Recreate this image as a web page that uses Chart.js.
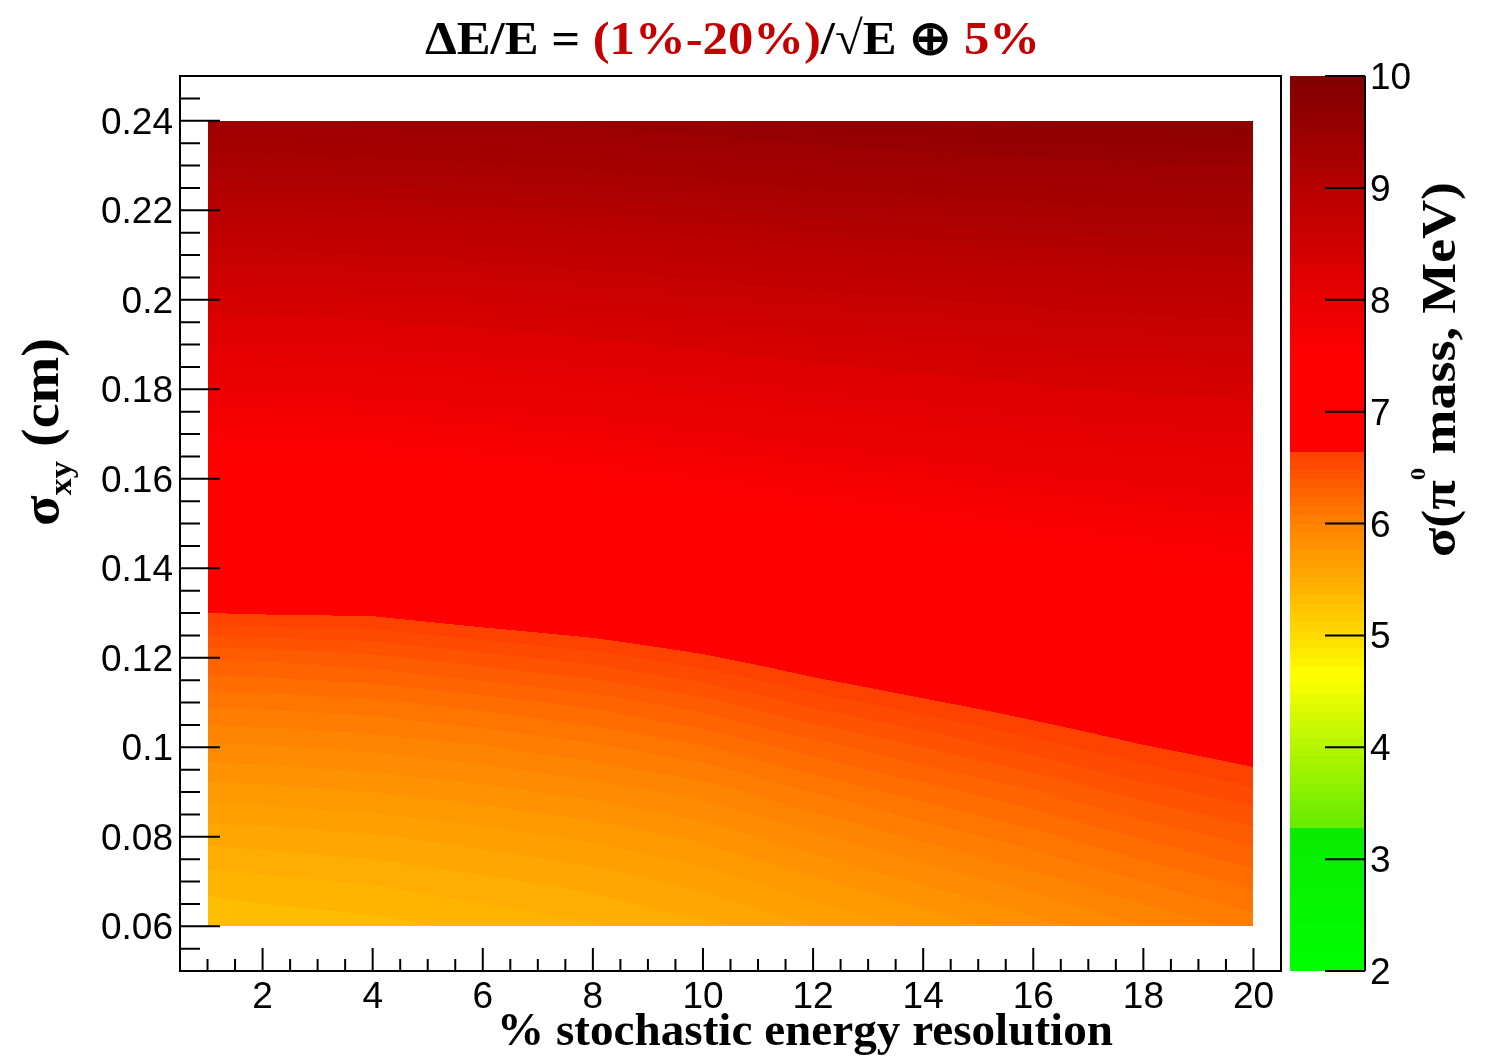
<!DOCTYPE html>
<html>
<head>
<meta charset="utf-8">
<script src="https://cdn.jsdelivr.net/npm/chart.js@4.4.1/dist/chart.umd.min.js"></script>
<style>
  html, body { margin: 0; padding: 0; background: #fff; }
  #wrap { width: 1494px; height: 1056px; }
</style>
</head>
<body>
<div id="wrap"><canvas id="contour" width="1494" height="1056"></canvas></div>
<script>
// grid nodes: stochastic term (%) and sigma_xy (cm)
const xValues = [1, 2, 4, 6, 8, 10, 12, 14, 16, 18, 20];
const yValues = [0.06, 0.07, 0.08, 0.09, 0.10, 0.11, 0.12, 0.13, 0.14, 0.15,
                 0.16, 0.17, 0.18, 0.19, 0.20, 0.21, 0.22, 0.23, 0.24];

// sigma(pi0 mass) in MeV, one column per x value, bottom (0.06) to top (0.24)
const massX1  = [5.28, 5.40, 5.55, 5.72, 5.90, 6.10, 6.33, 6.64, 6.87, 7.11, 7.35, 7.60, 7.86, 8.13, 8.40, 8.68, 8.95, 9.21, 9.45];
const massX2  = [5.30, 5.42, 5.56, 5.73, 5.91, 6.11, 6.34, 6.65, 6.88, 7.12, 7.36, 7.61, 7.87, 8.14, 8.41, 8.69, 8.96, 9.22, 9.46];
const massX4  = [5.33, 5.45, 5.59, 5.76, 5.94, 6.14, 6.38, 6.66, 6.89, 7.13, 7.38, 7.64, 7.90, 8.17, 8.44, 8.72, 8.98, 9.24, 9.48];
const massX6  = [5.38, 5.50, 5.64, 5.81, 5.99, 6.20, 6.45, 6.73, 6.96, 7.19, 7.44, 7.70, 7.96, 8.22, 8.49, 8.76, 9.02, 9.27, 9.51];
const massX8  = [5.43, 5.55, 5.70, 5.87, 6.06, 6.27, 6.52, 6.79, 7.02, 7.26, 7.51, 7.77, 8.02, 8.28, 8.55, 8.81, 9.06, 9.31, 9.55];
const massX10 = [5.50, 5.63, 5.78, 5.95, 6.15, 6.37, 6.62, 6.87, 7.10, 7.34, 7.59, 7.84, 8.09, 8.35, 8.61, 8.86, 9.11, 9.36, 9.60];
const massX12 = [5.60, 5.74, 5.90, 6.08, 6.28, 6.51, 6.74, 6.97, 7.20, 7.44, 7.68, 7.92, 8.17, 8.42, 8.67, 8.92, 9.17, 9.41, 9.64];
const massX14 = [5.70, 5.85, 6.02, 6.20, 6.40, 6.62, 6.84, 7.06, 7.29, 7.52, 7.75, 7.99, 8.23, 8.47, 8.71, 8.96, 9.20, 9.45, 9.68];
const massX16 = [5.80, 5.96, 6.13, 6.31, 6.52, 6.72, 6.93, 7.15, 7.37, 7.60, 7.83, 8.06, 8.29, 8.53, 8.76, 9.00, 9.24, 9.48, 9.71];
const massX18 = [5.92, 6.08, 6.25, 6.44, 6.63, 6.82, 7.02, 7.23, 7.45, 7.67, 7.89, 8.11, 8.34, 8.57, 8.80, 9.03, 9.27, 9.50, 9.73];
const massX20 = [6.03, 6.19, 6.36, 6.54, 6.72, 6.90, 7.10, 7.31, 7.52, 7.73, 7.94, 8.15, 8.37, 8.59, 8.82, 9.05, 9.28, 9.52, 9.75];
const massColumns = [massX1, massX2, massX4, massX6, massX8, massX10, massX12, massX14, massX16, massX18, massX20];

// axes and tick labels
const xRange = [0.5, 20.5];
const yRange = [0.05, 0.25];
const zRange = [2, 10];
const xTicks = [2, 4, 6, 8, 10, 12, 14, 16, 18, 20];
const yTicks = [0.06, 0.08, 0.1, 0.12, 0.14, 0.16, 0.18, 0.2, 0.22, 0.24];
const yTickLabels = ['0.06', '0.08', '0.1', '0.12', '0.14', '0.16', '0.18', '0.2', '0.22', '0.24'];
const zTicks = [2, 3, 4, 5, 6, 7, 8, 9, 10];
const nLevels = 100;

// colour palette (value, r, g, b)
const palette = [
  [2.0, 0, 255, 0], [3.2, 10, 235, 0], [3.2001, 95, 235, 0], [4.6, 255, 255, 0],
  [5.0, 255, 215, 0], [5.5, 255, 168, 0], [6.0, 255, 125, 0], [6.6, 255, 62, 0],
  [6.6001, 255, 0, 0], [7.4, 255, 0, 0], [8.0, 232, 0, 0], [9.0, 180, 0, 0], [10.0, 125, 0, 0]
];

function colorFor(v) {
  const step = (zRange[1] - zRange[0]) / nLevels;
  let lvl = Math.floor((v - zRange[0]) / step);
  lvl = Math.max(0, Math.min(nLevels - 1, lvl));
  const q = zRange[0] + lvl * step;
  for (let i = 0; i < palette.length - 1; i++) {
    const a = palette[i], b = palette[i + 1];
    if (q <= b[0]) {
      const t = (q - a[0]) / (b[0] - a[0]);
      return [a[1] + (b[1] - a[1]) * t, a[2] + (b[2] - a[2]) * t, a[3] + (b[3] - a[3]) * t];
    }
  }
  const l = palette[palette.length - 1];
  return [l[1], l[2], l[3]];
}

function massAt(dx, dy) {
  let i = 0;
  while (i < xValues.length - 2 && dx > xValues[i + 1]) i++;
  let j = 0;
  while (j < yValues.length - 2 && dy > yValues[j + 1]) j++;
  const tx = Math.max(0, Math.min(1, (dx - xValues[i]) / (xValues[i + 1] - xValues[i])));
  const ty = Math.max(0, Math.min(1, (dy - yValues[j]) / (yValues[j + 1] - yValues[j])));
  const c0 = massColumns[i], c1 = massColumns[i + 1];
  return c0[j] * (1 - tx) * (1 - ty) + c1[j] * tx * (1 - ty) + c0[j + 1] * (1 - tx) * ty + c1[j + 1] * tx * ty;
}

function drawRuns(ctx, runs, x, y, angle, width) {
  let total = 0;
  runs.forEach(r => { ctx.font = r.font; total += ctx.measureText(r.t).width; });
  const sx = width ? width / total : 1;
  ctx.save();
  ctx.translate(x, y);
  ctx.rotate(angle);
  ctx.scale(sx, 1);
  ctx.textAlign = 'left';
  ctx.textBaseline = 'alphabetic';
  let cx = 0;
  runs.forEach(r => {
    ctx.font = r.font;
    ctx.fillStyle = r.color || '#000';
    ctx.fillText(r.t, cx, r.shift || 0);
    cx += ctx.measureText(r.t).width;
  });
  ctx.restore();
}

const contourPlugin = {
  id: 'contour',
  afterDraw(chart) {
    const ctx = chart.ctx;
    const xs = chart.scales.x, ys = chart.scales.y, zs = chart.scales.z;
    const area = chart.chartArea;

    // filled contour
    const px0 = Math.round(xs.getPixelForValue(xValues[0]));
    const px1 = Math.round(xs.getPixelForValue(xValues[xValues.length - 1]));
    const py0 = Math.round(ys.getPixelForValue(yValues[yValues.length - 1]));
    const py1 = Math.round(ys.getPixelForValue(yValues[0]));
    const w = px1 - px0, h = py1 - py0;
    const img = ctx.createImageData(w, h);
    for (let j = 0; j < h; j++) {
      const dy = ys.getValueForPixel(py0 + j + 0.5);
      for (let i = 0; i < w; i++) {
        const dx = xs.getValueForPixel(px0 + i + 0.5);
        const c = colorFor(massAt(dx, dy));
        const k = (j * w + i) * 4;
        img.data[k] = c[0]; img.data[k + 1] = c[1]; img.data[k + 2] = c[2]; img.data[k + 3] = 255;
      }
    }
    ctx.putImageData(img, px0, py0);

    // colour bar
    const barL = 1290, barR = 1365;
    const bt = Math.round(zs.getPixelForValue(zRange[1]));
    const bb = Math.round(zs.getPixelForValue(zRange[0]));
    const bar = ctx.createImageData(barR - barL, bb - bt);
    for (let j = 0; j < bb - bt; j++) {
      const c = colorFor(zs.getValueForPixel(bt + j + 0.5));
      for (let i = 0; i < barR - barL; i++) {
        const k = (j * (barR - barL) + i) * 4;
        bar.data[k] = c[0]; bar.data[k + 1] = c[1]; bar.data[k + 2] = c[2]; bar.data[k + 3] = 255;
      }
    }
    ctx.putImageData(bar, barL, bt);

    ctx.save();
    ctx.strokeStyle = '#000';
    ctx.lineWidth = 2;
    ctx.strokeRect(area.left, area.top, area.right - area.left, area.bottom - area.top);
    ctx.beginPath();
    ctx.moveTo(barR, bt); ctx.lineTo(barR, bb);
    ctx.stroke();

    // ticks
    ctx.beginPath();
    for (let v = 1; v <= 20.001; v += 0.5) {
      const p = xs.getPixelForValue(v);
      const len = xTicks.includes(v) ? 23 : 12;
      ctx.moveTo(p, area.bottom); ctx.lineTo(p, area.bottom - len);
    }
    for (let v = 0.055; v <= 0.2451; v += 0.005) {
      const p = ys.getPixelForValue(v);
      const major = yTicks.some(t => Math.abs(t - v) < 1e-6);
      ctx.moveTo(area.left, p); ctx.lineTo(area.left + (major ? 40 : 20), p);
    }
    zTicks.forEach(v => {
      const p = zs.getPixelForValue(v);
      ctx.moveTo(barR, p); ctx.lineTo(barR - 40, p);
    });
    ctx.stroke();

    // tick labels
    ctx.fillStyle = '#000';
    ctx.font = '37px "Liberation Sans", Arial, sans-serif';
    ctx.textBaseline = 'alphabetic';
    ctx.textAlign = 'center';
    xTicks.forEach(v => ctx.fillText(String(v), xs.getPixelForValue(v), 1008));
    ctx.textAlign = 'right';
    yTicks.forEach((v, i) => ctx.fillText(yTickLabels[i], 173, ys.getPixelForValue(v) + 13));
    ctx.textAlign = 'left';
    zTicks.forEach(v => ctx.fillText(String(v), 1370, zs.getPixelForValue(v) + 13));
    ctx.restore();

    // titles
    const serif = '"Liberation Serif", "Times New Roman", serif';
    const red = '#c40000';
    drawRuns(ctx, [
      { t: '\u0394E/E = ', font: 'bold 47px ' + serif },
      { t: '(1%-20%)', font: 'bold 47px ' + serif, color: red },
      { t: '/\u221AE \u2295 ', font: 'bold 47px ' + serif },
      { t: '5%', font: 'bold 47px ' + serif, color: red }
    ], 425, 54, 0, 615);
    drawRuns(ctx, [
      { t: '% stochastic energy resolution', font: 'bold 47px ' + serif }
    ], 497, 1045, 0, 616);
    drawRuns(ctx, [
      { t: '\u03C3', font: 'bold 52px ' + serif },
      { t: 'xy', font: 'bold 32px ' + serif, shift: 13 },
      { t: ' (cm)', font: 'bold 52px ' + serif }
    ], 58, 526, -Math.PI / 2, 188);
    drawRuns(ctx, [
      { t: '\u03C3(\u03C0', font: 'bold 48px ' + serif },
      { t: '0', font: 'bold 22px ' + serif, shift: -30 },
      { t: ' mass, MeV)', font: 'bold 48px ' + serif }
    ], 1455, 557, -Math.PI / 2, 375);
  }
};

const points = [];
xValues.forEach((x, i) => yValues.forEach((y, j) => points.push({ x: x, y: y, v: massColumns[i][j] })));

new Chart(document.getElementById('contour'), {
  type: 'scatter',
  data: { datasets: [{ data: points, pointRadius: 0 }] },
  options: {
    responsive: false,
    animation: false,
    devicePixelRatio: 1,
    events: [],
    layout: { padding: { left: 180, top: 76, right: 213, bottom: 85 } },
    scales: {
      x: { type: 'linear', min: xRange[0], max: xRange[1], display: false },
      y: { type: 'linear', min: yRange[0], max: yRange[1], display: false },
      z: { type: 'linear', axis: 'y', position: 'right', min: zRange[0], max: zRange[1], display: false }
    },
    plugins: { legend: { display: false }, tooltip: { enabled: false } }
  },
  plugins: [contourPlugin]
});
</script>
</body>
</html>
